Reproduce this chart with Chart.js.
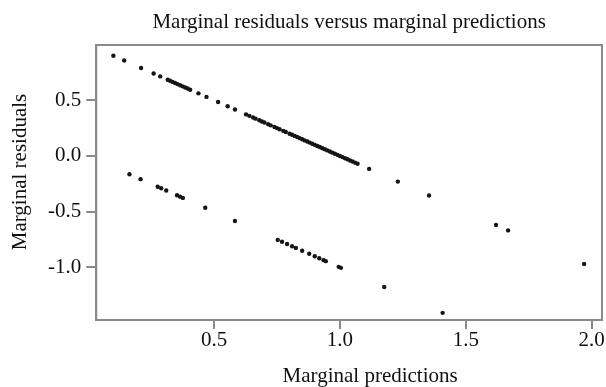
<!DOCTYPE html>
<html>
<head>
<meta charset="utf-8">
<script src="https://cdn.jsdelivr.net/npm/chart.js@4"></script>
<style>
  html, body { margin: 0; padding: 0; background: #fff; }
  #wrap { width: 606px; height: 387px; }
</style>
</head>
<body>
<div id="wrap"><canvas id="chart" width="606" height="387"></canvas></div>
<script>
// Values
const predictions = [
  0.10, 0.143, 0.21, 0.26, 0.286, 0.316, 0.325, 0.335, 0.345, 0.355, 0.365, 0.375, 0.385, 0.395, 0.405,
  0.438, 0.47, 0.516, 0.554, 0.583, 0.627, 0.64, 0.655, 0.665, 0.68, 0.69, 0.70, 0.715, 0.725, 0.74,
  0.75, 0.76, 0.775, 0.785, 0.80, 0.81, 0.82, 0.83, 0.84, 0.85, 0.86, 0.87, 0.88, 0.89, 0.90,
  0.91, 0.92, 0.93, 0.94, 0.95, 0.96, 0.97, 0.98, 0.99, 1.00, 1.01, 1.02, 1.03, 1.04, 1.05,
  1.06, 1.07, 1.116, 1.23, 1.354, 1.62, 1.668, 1.97,
  0.164, 0.208, 0.276, 0.29, 0.31, 0.353, 0.365, 0.376, 0.465, 0.583, 0.753, 0.77, 0.79,
  0.81, 0.825, 0.85, 0.878, 0.90, 0.918, 0.935, 0.944, 0.995, 1.004, 1.176, 1.408
];
const residuals = [
  0.90, 0.857, 0.79, 0.74, 0.714, 0.684, 0.675, 0.665, 0.655, 0.645, 0.635, 0.625, 0.615, 0.605, 0.595,
  0.562, 0.53, 0.484, 0.446, 0.417, 0.373, 0.36, 0.345, 0.335, 0.32, 0.31, 0.30, 0.285, 0.275, 0.26,
  0.25, 0.24, 0.225, 0.215, 0.20, 0.19, 0.18, 0.17, 0.16, 0.15, 0.14, 0.13, 0.12, 0.11, 0.10,
  0.09, 0.08, 0.07, 0.06, 0.05, 0.04, 0.03, 0.02, 0.01, 0.00, -0.01, -0.02, -0.03, -0.04, -0.05,
  -0.06, -0.07, -0.116, -0.23, -0.354, -0.62, -0.668, -0.97,
  -0.164, -0.208, -0.276, -0.29, -0.31, -0.353, -0.365, -0.376, -0.465, -0.583, -0.753, -0.77, -0.79,
  -0.81, -0.825, -0.85, -0.878, -0.90, -0.918, -0.935, -0.944, -0.995, -1.004, -1.176, -1.408
];
const xTicks = [0.5, 1.0, 1.5, 2.0];
const yTicks = [-1.0, -0.5, 0.0, 0.5];

const points = predictions.map((p, i) => ({ x: p, y: residuals[i] }));
const serif = "'Liberation Serif', 'DejaVu Serif', serif";
const axisGrey = '#8a8a8a';

// draws the grey frame around the plot area
const frame = {
  id: 'frame',
  afterDraw(chart) {
    const a = chart.chartArea, ctx = chart.ctx;
    ctx.save();
    ctx.strokeStyle = axisGrey;
    ctx.lineWidth = 2;
    ctx.strokeRect(a.left, a.top, a.right - a.left, a.bottom - a.top);
    ctx.restore();
  }
};

new Chart(document.getElementById('chart'), {
  type: 'scatter',
  data: {
    datasets: [{
      data: points,
      backgroundColor: '#151515',
      borderColor: '#151515',
      pointRadius: 2.2,
      pointBorderWidth: 0
    }]
  },
  options: {
    responsive: false,
    animation: false,
    layout: { padding: { left: 10, right: 4, top: 0, bottom: 0 } },
    plugins: {
      legend: { display: false },
      tooltip: { enabled: false },
      title: {
        display: true,
        fullSize: false,
        text: 'Marginal residuals versus marginal predictions',
        color: '#111',
        font: { family: serif, size: 21, weight: 'normal', lineHeight: 1 },
        padding: { top: 12, bottom: 12 }
      }
    },
    scales: {
      x: {
        type: 'linear',
        min: 0.032,
        max: 2.041,
        afterBuildTicks: s => { s.ticks = xTicks.map(v => ({ value: v })); },
        ticks: {
          color: '#111',
          font: { family: serif, size: 21, lineHeight: 1 },
          padding: 1,
          callback: v => Number(v).toFixed(1),
          maxRotation: 0
        },
        grid: { drawOnChartArea: false, drawTicks: true, tickLength: 9, color: axisGrey, lineWidth: 2 },
        border: { display: true, color: axisGrey, width: 2 },
        title: {
          display: true,
          text: '\u2003\u2003Marginal predictions',
          color: '#111',
          font: { family: serif, size: 21, lineHeight: 1 },
          padding: { top: 14, bottom: 0 }
        }
      },
      y: {
        type: 'linear',
        min: -1.472,
        max: 0.996,
        afterBuildTicks: s => { s.ticks = yTicks.map(v => ({ value: v })); },
        ticks: {
          color: '#111',
          font: { family: serif, size: 21, lineHeight: 1 },
          padding: 5,
          callback: v => Number(v).toFixed(1)
        },
        grid: { drawOnChartArea: false, drawTicks: true, tickLength: 10, color: axisGrey, lineWidth: 2 },
        border: { display: true, color: axisGrey, width: 2 },
        title: {
          display: true,
          text: '\u2003Marginal residuals',
          color: '#111',
          font: { family: serif, size: 21, lineHeight: 1 },
          padding: { top: 0, bottom: 12 }
        }
      }
    }
  },
  plugins: [frame]
});
</script>
</body>
</html>
